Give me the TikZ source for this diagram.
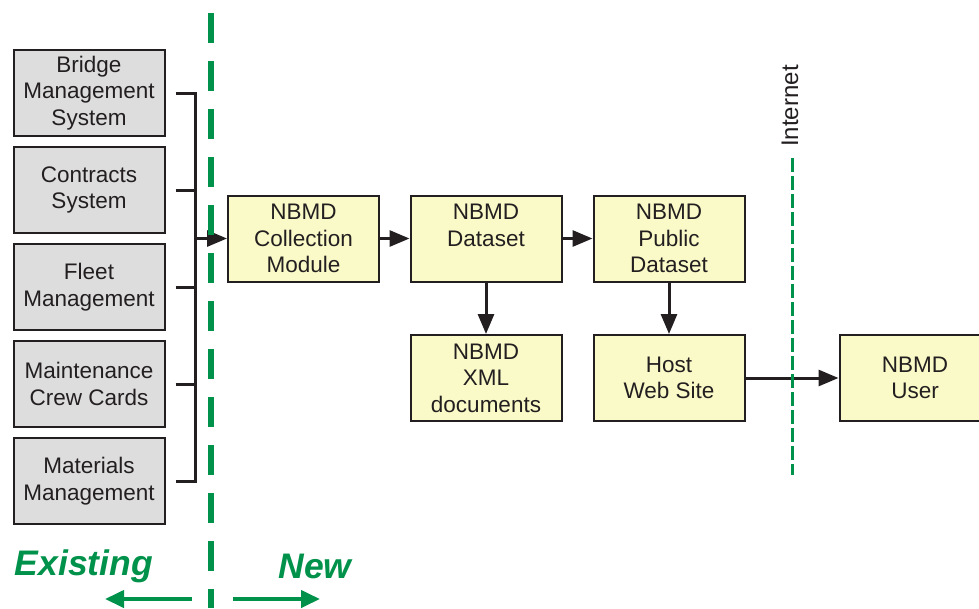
\documentclass[tikz,border=0pt]{standalone}
\usepackage{fontspec}
\setmainfont{Liberation Sans}
\usetikzlibrary{arrows.meta}
\definecolor{boxgray}{HTML}{DDDDDD}
\definecolor{boxyellow}{HTML}{FAFAC8}
\definecolor{edgecol}{HTML}{231F20}
\definecolor{divgreen}{HTML}{00914A}
\begin{document}
\begin{tikzpicture}[x=1pt,y=-1pt,
  boxbase/.style={draw=edgecol, line width=2pt, minimum width=151pt, minimum height=86pt,
    inner sep=0pt, align=center, font=\fontsize{22.5}{26.5}\selectfont, text=edgecol},
  oldbox/.style={boxbase, fill=boxgray},
  newbox/.style={boxbase, fill=boxyellow},
  conn/.style={draw=edgecol, line width=3pt},
  tip/.style={-{Triangle[length=20pt,width=16pt]}},
  greentip/.style={-{Triangle[length=19pt,width=17pt]}},
  lbl/.style={font=\fontsize{35.5}{40}\selectfont\bfseries\itshape, text=divgreen}
]
\useasboundingbox (0,0) rectangle (979,608);
% existing systems
\node[oldbox] (b1) at (89,93) {Bridge\\Management\\System};
\node[oldbox] (b2) at (89,190) {Contracts\\System};
\node[oldbox] (b3) at (89,287) {Fleet\\Management};
\node[oldbox] (b4) at (89,384) {Maintenance\\Crew Cards};
\node[oldbox] (b5) at (89,481) {Materials\\Management};
% new boxes
\node[newbox] (col) at (303.5,238.5) {NBMD\\Collection\\Module};
\node[newbox] (ds) at (486,238.5) {NBMD\\Dataset\\\phantom{Module}};
\node[newbox] (pub) at (669,238.5) {NBMD\\Public\\Dataset};
\node[newbox] (xml) at (486,378) {NBMD\\XML\\documents};
\node[newbox] (host) at (669,378) {Host\\Web Site};
\node[newbox] (user) at (915,378) {NBMD\\User};
% bracket
\coordinate (bartop) at (195,93);
\coordinate (barbot) at (195,481);
\draw[conn] ([xshift=10pt]b1.east) -- (bartop) -- (barbot) -- ([xshift=10pt]b5.east);
\draw[conn] ([xshift=10pt]b2.east) -- (b2.east -| bartop);
\draw[conn] ([xshift=10pt]b3.east) -- (b3.east -| bartop);
\draw[conn] ([xshift=10pt]b4.east) -- (b4.east -| bartop);
\draw[conn,tip] (col.west -| bartop) -- (col.west);
% flow arrows
\draw[conn,tip] (col) -- (ds);
\draw[conn,tip] (ds) -- (pub);
\draw[conn,tip] (ds) -- (xml);
\draw[conn,tip] (pub) -- (host);
\draw[conn,tip] (host) -- (user);
% existing / new divider
\coordinate (divtop) at (211,13);
\coordinate (divbot) at (211,608);
\draw[divgreen, line width=6pt, dash pattern=on 30pt off 18pt] (divtop) -- (divbot);
% internet line
\coordinate (inettop) at (792,158);
\coordinate (inetbot) at (792,475);
\draw[divgreen, line width=3pt, dash pattern=on 14pt off 4pt] (inettop) -- (inetbot);
\node[rotate=90, font=\fontsize{24}{28}\selectfont, text=edgecol] (inet) at (790,106) {Internet};
% labels
\node[lbl] (exist) at (84,566) {Existing};
\node[lbl] (new) at (315,566) {New};
\coordinate (la0) at (192,599);
\coordinate (la1) at (105,599);
\coordinate (ra0) at (233,599);
\coordinate (ra1) at (320,599);
\draw[divgreen, line width=4pt, greentip] (la0) -- (la1);
\draw[divgreen, line width=4pt, greentip] (ra0) -- (ra1);
\end{tikzpicture}
\end{document}
